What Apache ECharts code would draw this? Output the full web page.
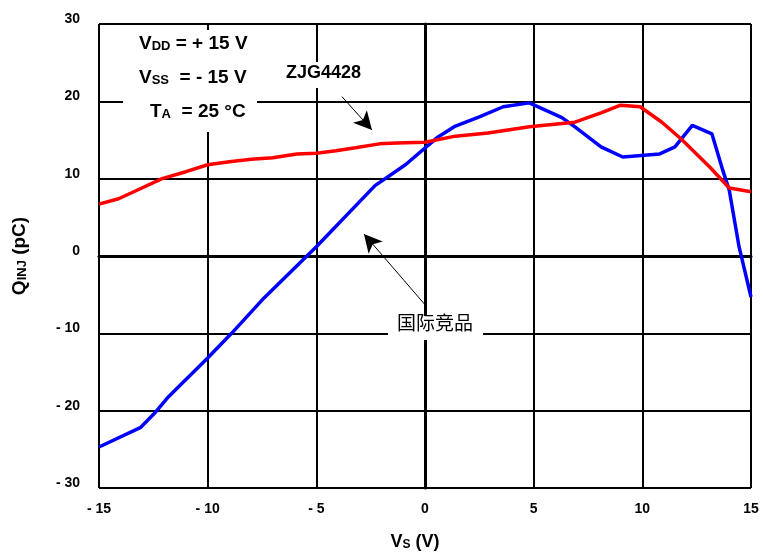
<!DOCTYPE html>
<html>
<head>
<meta charset="utf-8">
<script src="https://cdn.jsdelivr.net/npm/echarts@6/dist/echarts.min.js"></script>
<style>
  html, body { margin: 0; padding: 0; background: #fff; }
  #chart { width: 763px; height: 554px; }
</style>
</head>
<body>
<div id="chart"></div>
<script>
// ZJG4428 (red)
const redVs = [-15, -14.1, -13.1, -12.1, -11, -10, -9, -8, -7, -5.9, -5, -4.1, -3.2, -2.1, -1.3, 0, 1.4, 2.9, 4.8, 6.9, 8.1, 9.0, 9.9, 10.9, 11.8, 13.1, 14.0, 15]
const redQ = [6.7, 7.4, 8.7, 10.0, 10.9, 11.8, 12.2, 12.5, 12.7, 13.2, 13.3, 13.6, 14.0, 14.5, 14.6, 14.7, 15.5, 15.9, 16.7, 17.3, 18.5, 19.5, 19.3, 17.3, 15.1, 11.5, 8.8, 8.3]
// 国际竞品 (blue)
const blueVs = [-15, -13.1, -12.4, -11.8, -10, -8.9, -7.5, -5, -2.3, -0.9, 0.6, 1.4, 2.5, 3.6, 4.8, 6.3, 6.9, 8.1, 9.1, 10.8, 11.5, 12.3, 13.2, 13.7, 14.0, 14.45, 15]
const blueQ = [-24.7, -22.2, -20.2, -18.2, -13.2, -10, -5.7, 1.2, 9.1, 11.8, 15.4, 16.8, 18.0, 19.3, 19.8, 17.9, 16.7, 14.1, 12.8, 13.2, 14.1, 16.9, 15.8, 11.1, 8.5, 1.2, -5.3]

const FONT = '"Liberation Sans Narrow", "Liberation Sans", Arial, sans-serif'
const fmt = v => (v < 0 ? '- ' + Math.abs(v) : String(v))
const zip = (xs, ys) => xs.map((x, i) => [x, ys[i]])

const chart = echarts.init(document.getElementById('chart'), null, { renderer: 'canvas' })

// 注释用的箭头（数据坐标）
const arrows = [
  [{ coord: [-3.82, 20.6] }, { coord: [-2.44, 16.3] }],
  [{ coord: [0, -6.3] }, { coord: [-2.81, 2.85] }]
]

const subRich = size => ({
  a: { fontFamily: FONT, fontWeight: 'bold', fontSize: size, fill: '#000', color: '#000' },
  b: { fontFamily: FONT, fontWeight: 'bold', fontSize: Math.round(size * 0.68), fill: '#000', color: '#000', padding: [6, 0, 0, 0] }
})

const option = {
  animation: false,
  grid: { left: 99, right: 12, top: 24, bottom: 66, outerBoundsMode: 'none' },
  xAxis: {
    type: 'value',
    min: -15, max: 15, interval: 5,
    axisLine: { lineStyle: { color: '#000', width: 3 } },
    axisTick: { show: false },
    splitLine: { show: true, lineStyle: { color: '#000', width: 2 } },
    axisLabel: {
      formatter: fmt, margin: 14, color: '#000',
      fontFamily: FONT, fontWeight: 'bold', fontSize: 14
    },
    name: '{a|V}{b|S}{a| (V)}',
    nameLocation: 'middle', nameGap: 45,
    nameTextStyle: { rich: subRich(18), padding: [0, 20, 0, 0] }
  },
  yAxis: {
    type: 'value',
    min: -30, max: 30, interval: 10,
    axisLine: { show: true, lineStyle: { color: '#000', width: 3 } },
    axisTick: { show: false },
    splitLine: { show: true, lineStyle: { color: '#000', width: 2 } },
    axisLabel: {
      formatter: fmt, margin: 19, color: '#000', verticalAlign: 'bottom', lineHeight: 10,
      fontFamily: FONT, fontWeight: 'bold', fontSize: 14
    },
    name: '{a|Q}{b|INJ}{a| (pC)}',
    nameLocation: 'middle', nameGap: 70, nameRotate: 90,
    nameTextStyle: { rich: subRich(19) }
  },
  series: [
    {
      name: 'ZJG4428', type: 'line', data: zip(redVs, redQ),
      showSymbol: false, z: 5,
      lineStyle: { color: '#ff0000', width: 3.5 },
      markLine: {
        silent: true, symbol: ['none', 'arrow'], symbolSize: [14, 18],
        label: { show: false },
        lineStyle: { color: '#000', width: 1, type: 'solid' },
        data: arrows
      }
    },
    {
      name: '国际竞品', type: 'line', data: zip(blueVs, blueQ),
      showSymbol: false, z: 4,
      lineStyle: { color: '#0000ff', width: 3.5 }
    }
  ],
  graphic: [
    { type: 'rect', z: 50, shape: { x: 123, y: 30, width: 134, height: 102 }, style: { fill: '#fff' } },
    { type: 'rect', z: 50, shape: { x: 284, y: 62, width: 78, height: 26 }, style: { fill: '#fff' } },
    { type: 'rect', z: 50, shape: { x: 388, y: 316, width: 95, height: 24 }, style: { fill: '#fff' } },
    { type: 'text', z: 60, left: 139, top: 34, style: { text: '{a|V}{b|DD}{a| = + 15 V}', rich: subRich(19) } },
    { type: 'text', z: 60, left: 139, top: 68, style: { text: '{a|V}{b|SS}{a|  = - 15 V}', rich: subRich(19) } },
    { type: 'text', z: 60, left: 150, top: 102, style: { text: '{a|T}{b|A}{a|  = 25 °C}', rich: subRich(19) } },
    {
      type: 'text', z: 60, left: 286, top: 64,
      style: { text: 'ZJG4428', fontFamily: FONT, fontWeight: 'bold', fontSize: 18, fill: '#000' }
    },
    {
      type: 'text', z: 60, left: 397, top: 313,
      style: { text: '国际竞品', fontFamily: '"Noto Sans CJK SC", sans-serif', fontSize: 19, fill: '#000' }
    }
  ]
}

chart.setOption(option)
</script>
</body>
</html>
